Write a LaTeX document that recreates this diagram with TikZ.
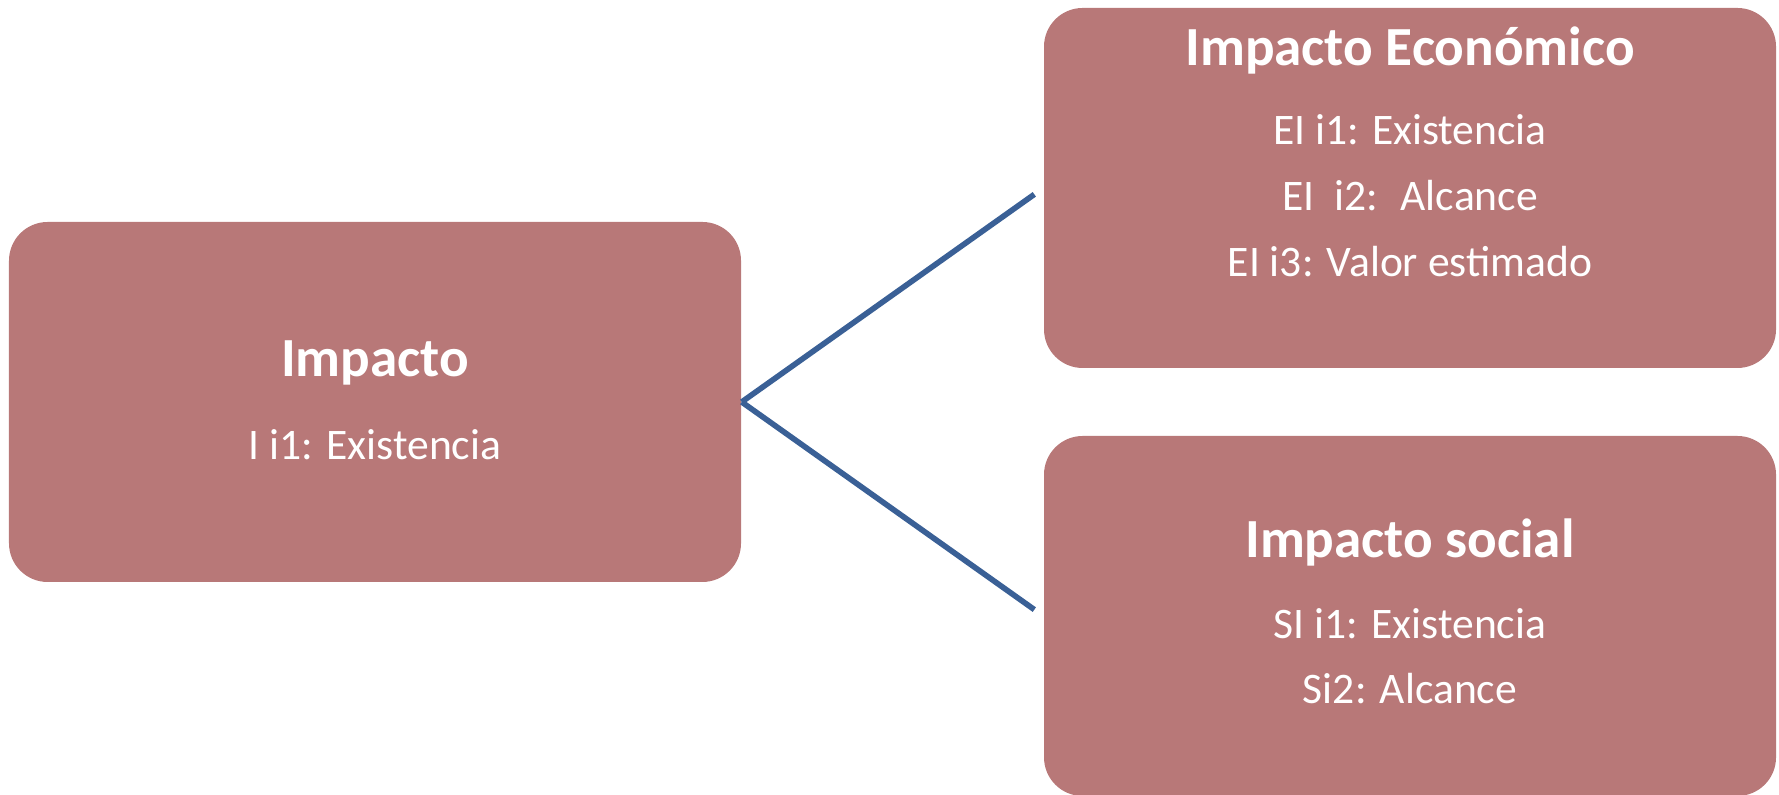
\documentclass[tikz,border=0pt]{standalone}
\usepackage{fontspec}
\setmainfont{Carlito}
\definecolor{boxred}{HTML}{B87878}
\definecolor{linkblue}{HTML}{3A6096}
\begin{document}
\begin{tikzpicture}[
  box/.style={fill=boxred, rounded corners=11pt, minimum width=7.32cm, minimum height=3.6cm, inner sep=0pt},
  titulo/.style={text=white, font=\fontsize{15.7}{18}\selectfont\bfseries},
  linea/.style={text=white, font=\fontsize{12.4}{15}\selectfont},
  con/.style={linkblue, line width=1.6pt, shorten >=0.11cm}
]
\useasboundingbox (0,0) rectangle (17.79,7.95);
\node[box] (impacto)   at (3.75, 3.93)  {};
\node[box] (economico) at (14.10, 6.07) {};
\node[box] (social)    at (14.10, 1.79) {};
\node[titulo] (impactoT) at (3.75, 4.32) {Impacto};
\node[linea]  (impacto1) at (3.75, 3.50) {I i1: Existencia};
\node[titulo] (economicoT) at (14.10, 7.44) {Impacto Económico};
\node[linea]  (economico1) at (14.10, 6.65) {EI i1: Existencia};
\node[linea]  (economico2) at (14.10, 5.99) {EI~ i2:~ Alcance};
\node[linea]  (economico3) at (14.10, 5.33) {EI i3: Valor estimado};
\node[titulo] (socialT) at (14.10, 2.53) {Impacto social};
\node[linea]  (social1) at (14.10, 1.71) {SI i1: Existencia};
\node[linea]  (social2) at (14.10, 1.06) {Si2: Alcance};
\draw[con] (impacto.east) -- (economico.west);
\draw[con] (impacto.east) -- (social.west);
\end{tikzpicture}
\end{document}
